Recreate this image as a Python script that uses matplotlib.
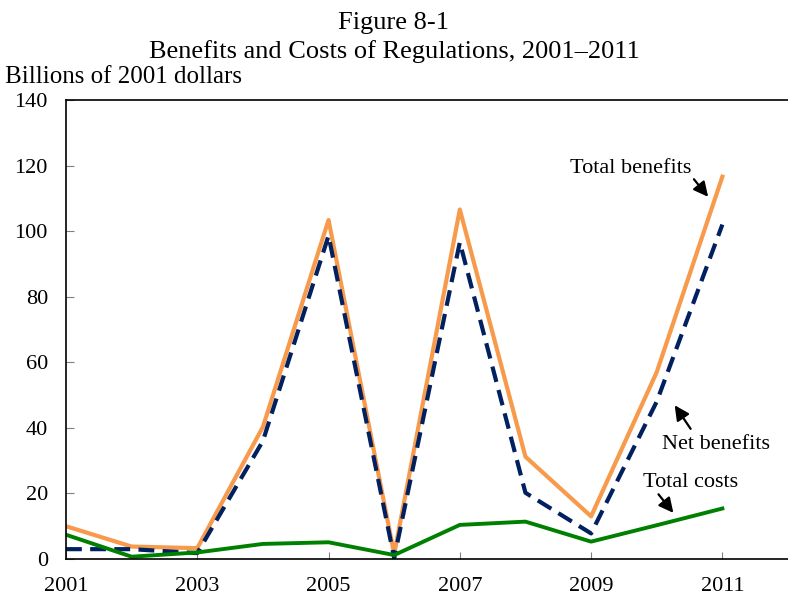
import matplotlib
matplotlib.use("Agg")
import matplotlib.pyplot as plt

plt.rcParams['font.family'] = ['Liberation Serif', 'DejaVu Serif']

years = [2001, 2002, 2003, 2004, 2005, 2006, 2007, 2008, 2009, 2010, 2011]
total_benefits = [10.0, 3.8, 3.3, 40.3, 103.4, 1.5, 106.6, 31.2, 13.0, 57.0, 116.6]
net_benefits = [3.0, 3.0, 1.8, 36.0, 98.6, 0.3, 96.6, 20.2, 7.8, 48.0, 102.0]
total_costs = [7.4, 0.7, 2.0, 4.6, 5.1, 1.2, 10.4, 11.4, 5.3, 10.3, 15.4]
xticks = [2001, 2003, 2005, 2007, 2009, 2011]
yticks = [0, 20, 40, 60, 80, 100, 120, 140]

orange = '#F79A4C'
navy = '#002060'
green = '#008000'

fig = plt.figure(figsize=(7.88, 5.95), dpi=100)
ax = fig.add_axes([66 / 788, 1 - 559 / 595, 1 - 66 / 788, (559 - 100) / 595])

ax.plot(years, total_benefits, color=orange, lw=3.0)
ax.plot(years, net_benefits, color=navy, lw=3.0, dashes=(3.8, 2.0))
ax.plot(years, total_costs, color=green, lw=2.8)

ax.set_xlim(2001, 2012)
ax.set_ylim(0, 140)
ax.set_xticks(xticks)
ax.set_yticks(yticks)
ax.tick_params(axis='both', direction='in', color='#808080', labelsize=16)
ax.tick_params(axis='y', length=6, pad=13)
ax.tick_params(axis='x', length=5, pad=13)
ax.spines['right'].set_visible(False)
for s in ['left', 'bottom', 'top']:
    ax.spines[s].set_linewidth(1.2)

fig.text(0.5, 1 - 23 / 595, 'Figure 8-1', ha='center', va='center', fontsize=19)
fig.text(0.5, 1 - 52 / 595, 'Benefits and Costs of Regulations, 2001\u20132011',
         ha='center', va='center', fontsize=19)
fig.text(5 / 788, 1 - 77 / 595, 'Billions of 2001 dollars', ha='left', va='center',
         fontsize=18)

arrow = dict(arrowstyle='-|>', color='black', lw=1.6, mutation_scale=22)
ax.text(2008.68, 119.2, 'Total benefits', ha='left', va='center', fontsize=16)
ax.annotate('', xy=(2010.81, 109.8), xytext=(2010.54, 116.5), arrowprops=arrow)
ax.text(2010.08, 34.8, 'Net benefits', ha='left', va='center', fontsize=16)
ax.annotate('', xy=(2010.25, 47.6), xytext=(2010.54, 39.0), arrowprops=arrow)
ax.text(2009.79, 23.2, 'Total costs', ha='left', va='center', fontsize=16)
ax.annotate('', xy=(2010.28, 13.4), xytext=(2010.00, 20.4), arrowprops=arrow)

fig.savefig('out.png', dpi=100)
